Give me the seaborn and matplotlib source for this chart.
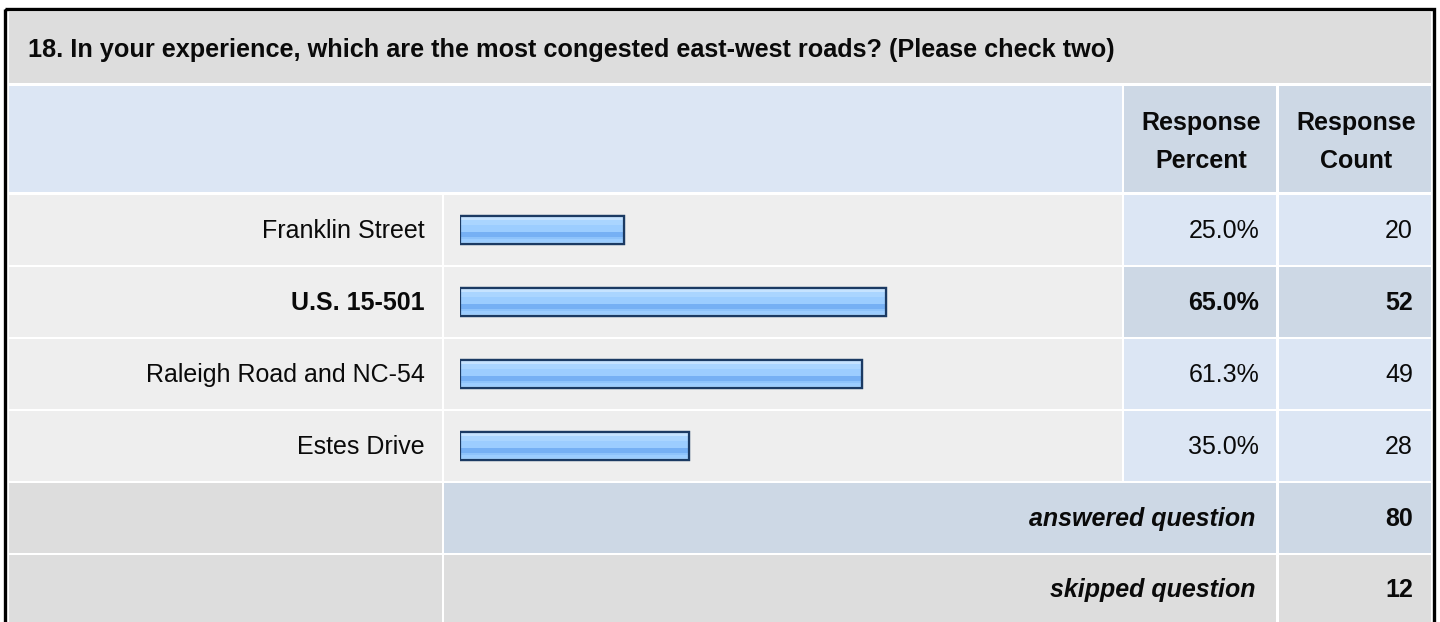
import numpy as np
import matplotlib.pyplot as plt
import seaborn as sns
from matplotlib.patches import Rectangle
from matplotlib.colors import to_rgb

roads = ['Franklin Street', 'U.S. 15-501', 'Raleigh Road and NC-54', 'Estes Drive']
percents = [25.0, 65.0, 61.3, 35.0]
counts = [20, 52, 49, 28]
answered = 80
skipped = 12
question = '18. In your experience, which are the most congested east-west roads? (Please check two)'
top_road = 'U.S. 15-501'

sns.set_theme(style='white')
plt.rcParams['font.family'] = ['Liberation Sans', 'DejaVu Sans']

W, H = 1440, 622
fig = plt.figure(figsize=(W / 100, H / 100), dpi=100)
fig.patch.set_facecolor('white')

# table in pixel coords
ax = fig.add_axes([0, 0, 1, 1])
ax.set_xlim(0, W)
ax.set_ylim(H, 0)
ax.axis('off')

GRAY = '#DDDDDD'
LIGHT = '#EEEEEE'
BLUE = '#DCE6F4'
BLUE2 = '#CDD8E5'
FS = 18
TXT = '#0A0A0A'


def cell(x0, x1, y0, y1, c):
    ax.add_patch(Rectangle((x0, y0), x1 - x0, y1 - y0, facecolor=c, edgecolor='none'))


# outer frame
ax.add_patch(Rectangle((5, 9), 1429, 640, fill=False, edgecolor='black', linewidth=2.4))

cols = [(9, 442), (444, 1122), (1124, 1276), (1279, 1431)]

# title
cell(9, 1431, 12, 83, GRAY)
ax.text(28, 50, question, fontsize=18.2, fontweight='bold', va='center', ha='left', color=TXT)

# header
cell(9, 1122, 86, 192, BLUE)
cell(1124, 1276, 86, 192, BLUE2)
cell(1279, 1431, 86, 192, BLUE2)
for (x0, x1), lab in zip(cols[2:], ['Response\nPercent', 'Response\nCount']):
    ax.text((x0 + x1) / 2 + 1, 142, lab, fontsize=FS, fontweight='bold', ha='center', va='center',
            linespacing=1.75, color=TXT)

# data rows
for i, (road, pct, cnt) in enumerate(zip(roads, percents, counts)):
    y0 = 195 + 72 * i
    y1 = y0 + 70
    yc = (y0 + y1) / 2 + 1
    bold = road == top_road
    vc = BLUE2 if bold else BLUE
    cell(9, 442, y0, y1, LIGHT)
    cell(444, 1122, y0, y1, LIGHT)
    cell(1124, 1276, y0, y1, vc)
    cell(1279, 1431, y0, y1, vc)
    fw = 'bold' if bold else 'normal'
    ax.text(425, yc, road, fontsize=FS, fontweight=fw, ha='right', va='center', color=TXT)
    ax.text(1259, yc, f'{pct:.1f}%', fontsize=FS, fontweight=fw, ha='right', va='center', color=TXT)
    ax.text(1413, yc, f'{cnt}', fontsize=FS, fontweight=fw, ha='right', va='center', color=TXT)

# summary rows
cell(9, 442, 483, 553, GRAY)
cell(444, 1276, 483, 553, BLUE2)
cell(1279, 1431, 483, 553, BLUE2)
cell(9, 442, 555, 640, GRAY)
cell(444, 1276, 555, 640, GRAY)
cell(1279, 1431, 555, 640, GRAY)
for yc, lab, val in [(519, 'answered question', answered), (590, 'skipped question', skipped)]:
    ax.text(1255, yc, lab, fontsize=FS, fontweight='bold', style='italic', ha='right', va='center', color=TXT)
    ax.text(1413, yc, f'{val}', fontsize=FS, fontweight='bold', ha='right', va='center', color=TXT)

# bars
bx = fig.add_axes([460 / W, 1 - 482 / H, 655 / W, 288 / H])
bx.patch.set_alpha(0)
sns.barplot(x=percents, y=roads, orient='h', ax=bx, width=0.39, color='#99CCFF',
            edgecolor='#1B3A63', linewidth=1.6, saturation=1)

stripes = ['#C6E3FF', '#C6E3FF', '#AAD5FF', '#AAD5FF', '#9CCDFF', '#9CCDFF', '#9CCDFF',
           '#76B0F4', '#76B0F4', '#8EC3FB', '#9CCDFF', '#A8D4FF']
grad = np.array([to_rgb(c) for c in stripes])[:, None, :]
for p in list(bx.patches):
    x, y, w, h = p.get_x(), p.get_y(), p.get_width(), p.get_height()
    bx.imshow(grad, extent=(x, x + w, y + h, y), aspect='auto', interpolation='nearest',
              origin='upper', zorder=p.get_zorder() + 0.1)
    bx.add_patch(Rectangle((x, y), w, h, fill=False, edgecolor='#1B3A63', linewidth=1.6,
                           zorder=p.get_zorder() + 0.2))
bx.set_xlim(0, 100)
bx.set_ylim(3.5, -0.5)
bx.axis('off')

fig.savefig('out.png', dpi=100)
